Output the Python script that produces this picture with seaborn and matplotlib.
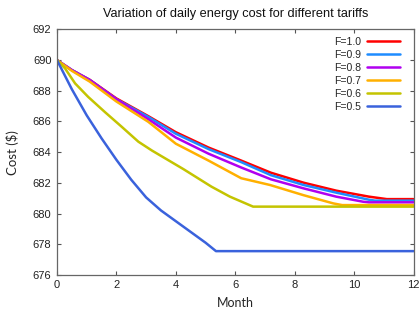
import numpy as np
import pandas as pd
import matplotlib
matplotlib.use("Agg")
import matplotlib.pyplot as plt
from matplotlib.lines import Line2D
import seaborn as sns

labels = ["F=1.0", "F=0.9", "F=0.8", "F=0.7", "F=0.6", "F=0.5"]
colors = ["#ff0000", "#1e8cff", "#b000f0", "#ffb000", "#c4c400", "#3a62dc"]

m_10 = [0, 0.5, 1.1, 2.0, 3.07, 4.0, 5.1, 6.2, 7.2, 8.3, 9.4, 10.5, 11.1, 12]
c_10 = [690, 689.35, 688.72, 687.5, 686.35, 685.3, 684.3, 683.45, 682.66, 682.01, 681.49, 681.1, 680.94, 680.94]

m_09 = [0, 0.5, 1.1, 2.0, 3.07, 4.0, 5.1, 6.2, 7.2, 8.3, 9.4, 10.5, 10.7, 12]
c_09 = [690, 689.35, 688.7, 687.45, 686.3, 685.2, 684.2, 683.35, 682.5, 681.86, 681.36, 680.9, 680.84, 680.84]

m_08 = [0, 0.5, 1.1, 2.0, 3.07, 4.0, 5.1, 6.2, 7.2, 8.3, 9.4, 10.3, 10.5, 12]
c_08 = [690, 689.35, 688.7, 687.45, 686.15, 684.95, 683.9, 683.0, 682.23, 681.64, 681.1, 680.77, 680.73, 680.73]

m_07 = [0, 0.5, 1.1, 2.0, 3.07, 4.0, 5.1, 6.2, 7.17, 8.29, 9.3, 9.6, 12]
c_07 = [690, 689.3, 688.6, 687.3, 685.98, 684.55, 683.45, 682.3, 681.86, 681.2, 680.66, 680.55, 680.55]

m_06 = [0, 0.27, 0.61, 1.05, 1.62, 2.18, 2.74, 3.2, 4.25, 5.2, 5.82, 6.6, 12]
c_06 = [690, 689.46, 688.48, 687.6, 686.6, 685.65, 684.68, 684.1, 682.9, 681.75, 681.1, 680.45, 680.45]

m_05 = [0, 0.5, 1.0, 1.5, 2.0, 2.5, 3.0, 3.5, 4.0, 4.5, 5.0, 5.35, 12]
c_05 = [690, 688.1, 686.4, 684.9, 683.5, 682.2, 681.05, 680.2, 679.5, 678.8, 678.1, 677.55, 677.55]

months = [m_10, m_09, m_08, m_07, m_06, m_05]
costs = [c_10, c_09, c_08, c_07, c_06, c_05]

x_ticks = [0, 2, 4, 6, 8, 10, 12]
y_ticks = [676, 678, 680, 682, 684, 686, 688, 690, 692]

rows = []
for lab, mm, cc in zip(labels, months, costs):
    for a, b in zip(mm, cc):
        rows.append({"tariff": lab, "month": a, "cost": b})
df = pd.DataFrame(rows)

sns.set_style("ticks")
plt.rcParams["font.family"] = ["Liberation Sans", "DejaVu Sans"]

fig = plt.figure(figsize=(4.19, 3.16), dpi=100)
ax = fig.add_axes([0.136, 0.130, 0.851, 0.777])

pal = dict(zip(labels, colors))
sns.lineplot(data=df, x="month", y="cost", hue="tariff", hue_order=labels,
             palette=pal, linewidth=1.8, sort=False,
             estimator=None, ax=ax, legend=False)

ax.set_xlim(0, 12)
ax.set_ylim(676, 692)
ax.set_xticks(x_ticks)
ax.set_yticks(y_ticks)
ax.tick_params(direction="in", top=True, right=True, length=3, width=0.8,
               color="#555555", labelsize=8, labelcolor="#222222", pad=4)
for s in ax.spines.values():
    s.set_color("#666666")
    s.set_linewidth(0.9)

ax.set_xlabel("Month", fontsize=9, family=["Lato", "DejaVu Sans"], labelpad=5)
ax.set_ylabel("Cost ($)", fontsize=9.5, family=["Lato", "DejaVu Sans"], labelpad=10)
ax.set_title("Variation of daily energy cost for different tariffs", fontsize=9.2,
             pad=9, color="#111111")

handles = [Line2D([], [], color=pal[l], linewidth=1.8) for l in labels]
ax.legend(handles, labels, loc="upper right", bbox_to_anchor=(0.983, 1.0),
          markerfirst=False, frameon=False,
          fontsize=7.6, handlelength=3.1, labelspacing=0.28,
          borderaxespad=0.3, handletextpad=0.6)

fig.savefig("out.png", dpi=100)
